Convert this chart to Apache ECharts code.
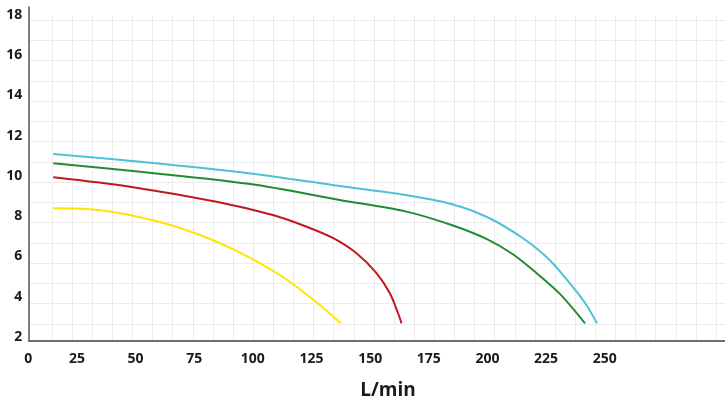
<!DOCTYPE html>
<html>
<head>
<meta charset="utf-8">
<script src="https://cdn.jsdelivr.net/npm/echarts@6/dist/echarts.min.js"></script>
<style>
  html, body { margin: 0; padding: 0; background: #fff; }
  #chart { width: 725px; height: 401px; }
</style>
</head>
<body>
<div id="chart"></div>
<script>
// ---- Data (flow L/min, head) ----
const xTickLabels = [0, 25, 50, 75, 100, 125, 150, 175, 200, 225, 250];
const yTickLabels = [2, 4, 6, 8, 10, 12, 14, 16, 18];
const xAxisTitle = 'L/min';

const cyanFlow  = [14.9, 52, 99, 137, 165, 185, 200, 215, 226.5, 236.3, 242.2, 246.7];
const cyanHead  = [11.09, 10.71, 10.13, 9.50, 9.06, 8.60, 7.95, 6.92, 5.83, 4.50, 3.59, 2.68];

const greenFlow = [14.9, 52, 99, 137, 165.5, 185, 200, 211, 221, 231, 241.6];
const greenHead = [10.63, 10.21, 9.60, 8.81, 8.23, 7.55, 6.85, 6.10, 5.17, 4.13, 2.68];

const redFlow   = [14.9, 47.6, 84.5, 108.5, 122.9, 134.1, 144.2, 152.7, 158.4, 161.9, 163.4];
const redHead   = [9.94, 9.47, 8.72, 8.06, 7.48, 6.92, 6.16, 5.17, 4.17, 3.18, 2.68];

const yellowFlow = [14.9, 30.5, 47.6, 70.2, 91.5, 112.8, 128.5, 137.5];
const yellowHead = [8.40, 8.35, 8.06, 7.37, 6.37, 4.98, 3.59, 2.68];

function pairs(xs, ys) { return xs.map((x, i) => [x, ys[i]]); }

const FONT = "'Open Sans', 'DejaVu Sans', sans-serif";
const gridColor = '#ebebeb';

const chart = echarts.init(document.getElementById('chart'), null, { renderer: 'canvas' });

function lineSeries(name, xs, ys, color) {
  return {
    name, type: 'line', xAxisIndex: 0, yAxisIndex: 0,
    data: pairs(xs, ys), smooth: 0.3, showSymbol: false, symbol: 'none',
    lineStyle: { color, width: 2 }, z: 5
  };
}

const xMin = 0, xMax = 300;
const yMin = yTickLabels[0], yMax = yTickLabels[yTickLabels.length - 1];

chart.setOption({
  animation: false,
  backgroundColor: '#ffffff',
  grid: [
    { left: 18.3, right: 2.6, top: 15, bottom: 64 },   // data grid
    { left: 29, right: 0, top: 7, bottom: 60 },         // axis lines
    { left: 52, right: 9, top: 16, bottom: 60 },        // vertical gridlines
    { left: 29, right: 0, top: 20, bottom: 77 }         // horizontal gridlines
  ],
  xAxis: [
    {
      gridIndex: 0, type: 'value', min: xMin, max: xMax, interval: 25,
      axisLine: { show: false }, axisTick: { show: false }, splitLine: { show: false },
      axisLabel: {
        margin: 15, color: '#1a1a1a', fontFamily: FONT, fontWeight: 'bold', fontSize: 14,
        showMinLabel: true, showMaxLabel: true,
        formatter: v => (v === 0 ? '{z|0}' : (xTickLabels.indexOf(v) >= 0 ? String(v) : '')),
        rich: { z: { padding: [0, 0, 0, 20], color: '#1a1a1a', fontFamily: FONT, fontWeight: 'bold', fontSize: 14 } }
      }
    },
    {
      gridIndex: 1, type: 'value', min: 0, max: 1,
      axisLine: { show: true, lineStyle: { color: '#6f6f6f', width: 2 } },
      axisTick: { show: false }, axisLabel: { show: false }, splitLine: { show: false }
    },
    {
      gridIndex: 2, type: 'value', min: 0, max: 33, interval: 1,
      axisLine: { show: false }, axisTick: { show: false }, axisLabel: { show: false },
      splitLine: { show: true, lineStyle: { color: gridColor, width: 1 } }
    },
    { gridIndex: 3, type: 'value', min: 0, max: 1, show: false }
  ],
  yAxis: [
    {
      gridIndex: 0, type: 'value', min: yMin, max: yMax, interval: 2, offset: -11,
      axisLine: { show: false }, axisTick: { show: false }, splitLine: { show: false },
      axisLabel: { margin: 7, color: '#1a1a1a', fontFamily: FONT, fontWeight: 'bold', fontSize: 14 }
    },
    {
      gridIndex: 1, type: 'value', min: 0, max: 1,
      axisLine: { show: true, lineStyle: { color: '#555555', width: 1.5 } },
      axisTick: { show: false }, axisLabel: { show: false }, splitLine: { show: false }
    },
    { gridIndex: 2, type: 'value', min: 0, max: 1, show: false },
    {
      gridIndex: 3, type: 'value', min: 0, max: 15, interval: 1,
      axisLine: { show: false }, axisTick: { show: false }, axisLabel: { show: false },
      splitLine: { show: true, lineStyle: { color: gridColor, width: 1 } }
    }
  ],
  graphic: [
    {
      type: 'text', x: 388, y: 391, z: 10,
      style: {
        text: xAxisTitle, fill: '#1a1a1a', font: 'bold 19px ' + FONT,
        textAlign: 'center', textVerticalAlign: 'middle'
      }
    }
  ],
  series: [
    lineSeries('yellow', yellowFlow, yellowHead, '#ffe500'),
    lineSeries('red', redFlow, redHead, '#c0181d'),
    lineSeries('green', greenFlow, greenHead, '#1f8c34'),
    lineSeries('cyan', cyanFlow, cyanHead, '#4fc0da')
  ]
});
</script>
</body>
</html>
